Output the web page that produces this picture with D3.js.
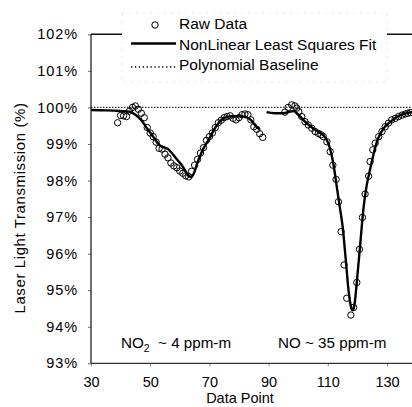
<!DOCTYPE html>
<html><head><meta charset="utf-8">
<script src="https://cdn.jsdelivr.net/npm/d3@7"></script>
<style>html,body{margin:0;padding:0;background:#fff;}svg{display:block;font-family:"Liberation Sans",Arial,sans-serif;}</style>
</head><body>
<svg id="c" width="412" height="407"></svg>
<script>
// ---- data ----
const xTicks = [30, 50, 70, 90, 110, 130];
const yTicks = [93, 94, 95, 96, 97, 98, 99, 100, 101, 102];
const legendLabels = ["Raw Data", "NonLinear Least Squares Fit", "Polynomial Baseline"];
const annotations = ["NO", "2", "  ~ 4 ppm-m", "NO ~ 35 ppm-m"];
const baselineValue = 100;

// raw data, NO2 region (data point index, % transmission)
const rawLeftX = [39,40,41,42,43,44,45,46,47,48,49,50,51,52,53,54,55,56,57,58,59,60,61,62,63,64,65,66,67,68,69,70,71,72,73,74,75,76,77,78,79,80,81,82,83,84,85,86,87,88];
const rawLeftY = [99.58,99.78,99.77,99.75,99.90,100.00,100.04,99.95,99.84,99.72,99.45,99.30,99.20,99.05,98.88,98.86,98.72,98.62,98.48,98.40,98.35,98.26,98.20,98.13,98.10,98.25,98.42,98.58,98.75,98.90,99.10,99.20,99.30,99.45,99.58,99.65,99.72,99.75,99.77,99.70,99.66,99.72,99.80,99.82,99.80,99.66,99.47,99.40,99.28,99.18];
// raw data, NO region
const rawRightX = [95.5,96.6,97.8,98.9,99.5,100.2,101.2,102.3,103.4,104.6,105.7,106.8,107.7,108.5,109.7,110.8,111.7,112.8,113.6,114.5,115.5,116.4,117.8,118.7,119.8,120.7,121.7,122.6,123.8,124.3,125.2,126.0,127.2,128.3,129.4,130.5,131.6,132.8,133.9,135.1,136.2,137.0,137.9];
const rawRightY = [99.87,100.00,100.07,100.04,99.98,99.88,99.75,99.61,99.52,99.43,99.34,99.29,99.25,99.20,99.06,98.79,98.42,98.03,97.42,96.60,95.69,94.78,94.32,94.53,95.21,96.12,96.99,97.63,98.12,98.52,98.84,99.02,99.20,99.34,99.47,99.57,99.66,99.70,99.75,99.79,99.82,99.84,99.86];

// nonlinear least squares fit
const fitLeftX = [30,35,40,43,45,47,49,51,53,54,55,56,57,59,61,62,63,64,65,66,67,68,70,72,74,76,78,80,82,84,86,87];
const fitLeftY = [99.93,99.92,99.90,99.88,99.80,99.65,99.42,99.20,98.98,98.92,98.90,98.86,98.78,98.58,98.38,98.25,98.12,98.10,98.25,98.50,98.70,98.88,99.15,99.45,99.65,99.74,99.76,99.76,99.74,99.66,99.46,99.40];
const fitRightX = [89.3,92,95,97,98.5,100,101,103,105,107,108.5,110,111,112,113,114,115,116,117,118,118.5,119,120,121,122,123,124,125,126,127,129,131,133,135,137,139];
const fitRightY = [99.87,99.84,99.84,99.88,99.90,99.80,99.72,99.56,99.43,99.32,99.24,99.05,98.80,98.40,97.85,97.30,96.75,95.90,95.00,94.50,94.45,94.60,95.40,96.30,97.20,97.80,98.20,98.56,98.90,99.15,99.44,99.60,99.72,99.80,99.85,99.88];

// ---- chart ----
const svg = d3.select("#c");
const L = 91, R = 412, T = 34.3, B = 363.3;
const x = d3.scaleLinear().domain([30, 30 + (R - L) / 2.96]).range([L, R]);
const y = d3.scaleLinear().domain([93, 102]).range([B, T]);

const defs = svg.append("defs");
defs.append("clipPath").attr("id", "clip").append("rect")
  .attr("x", L).attr("y", T).attr("width", R - L).attr("height", B - T);

const plot = svg.append("g").attr("clip-path", "url(#clip)");

// baseline
plot.append("line")
  .attr("x1", L).attr("x2", R).attr("y1", y(baselineValue)).attr("y2", y(baselineValue))
  .attr("stroke", "#333").attr("stroke-width", 1.2).attr("stroke-dasharray", "1.5,1.5");

// raw circles
const raw = rawLeftX.map((v, i) => [v, rawLeftY[i]]).concat(rawRightX.map((v, i) => [v, rawRightY[i]]));
plot.selectAll("circle.raw").data(raw).enter().append("circle")
  .attr("class", "raw")
  .attr("cx", d => x(d[0])).attr("cy", d => y(d[1])).attr("r", 3.2)
  .attr("fill", "none").attr("stroke", "#000").attr("stroke-width", 1);

// fit lines
const line = d3.line().x(d => x(d[0])).y(d => y(d[1])).curve(d3.curveMonotoneX);
[[fitLeftX, fitLeftY], [fitRightX, fitRightY]].forEach(([xs, ys]) => {
  plot.append("path").datum(xs.map((v, i) => [v, ys[i]]))
    .attr("d", line).attr("fill", "none").attr("stroke", "#000").attr("stroke-width", 2.4);
});

// axes
const yAxis = d3.axisLeft(y).tickValues(yTicks).tickSize(3).tickFormat(d => d + "%");
const gy = svg.append("g").attr("transform", `translate(${L},0)`).call(yAxis);
gy.select(".domain").remove();
gy.selectAll(".tick line").attr("stroke", "#666");
gy.selectAll(".tick text").attr("x", -13).attr("font-size", 14.5).attr("fill", "#000")
  .attr("font-family", "Liberation Sans, Arial, sans-serif").attr("letter-spacing", 0.9);

const xAxis = d3.axisBottom(x).tickValues(xTicks).tickSize(3).tickFormat(d3.format("d"));
const gx = svg.append("g").attr("transform", `translate(0,${B})`).call(xAxis);
gx.select(".domain").remove();
gx.selectAll(".tick line").attr("stroke", "#888");
gx.selectAll(".tick text").attr("y", 13).attr("font-size", 14.5).attr("fill", "#000")
  .attr("font-family", "Liberation Sans, Arial, sans-serif");

// frame lines
svg.append("line").attr("x1", L).attr("x2", L).attr("y1", T).attr("y2", B).attr("stroke", "#222").attr("stroke-width", 1.3);
svg.append("line").attr("x1", L).attr("x2", R).attr("y1", B).attr("y2", B).attr("stroke", "#333").attr("stroke-width", 1.3);
svg.append("line").attr("x1", L).attr("x2", R).attr("y1", T).attr("y2", T).attr("stroke", "#111").attr("stroke-width", 1.5);

// axis titles
svg.append("text").attr("x", 240).attr("y", 403).attr("text-anchor", "middle")
  .attr("font-size", 14.5).text("Data Point");
svg.append("text").attr("transform", "translate(25,208) rotate(-90)").attr("text-anchor", "middle")
  .attr("font-size", 15).attr("letter-spacing", 0.6).text("Laser Light Transmission (%)");

// annotations
const a1 = svg.append("text").attr("x", 121).attr("y", 348).attr("font-size", 15.2).attr("xml:space", "preserve");
a1.append("tspan").text(annotations[0]);
a1.append("tspan").attr("dy", 4).attr("font-size", 10.5).text(annotations[1]);
a1.append("tspan").attr("dy", -4).text(annotations[2]);
svg.append("text").attr("x", 278).attr("y", 348).attr("font-size", 15.2).text(annotations[3]);

// legend
const lg = svg.append("g");
lg.append("rect").attr("x", 122).attr("y", 13).attr("width", 265).attr("height", 69)
  .attr("fill", "#fff").attr("stroke", "#e2e2e2").attr("stroke-width", 1).attr("stroke-dasharray", "2,5");
lg.append("circle").attr("cx", 155).attr("cy", 25).attr("r", 3.2).attr("fill", "none").attr("stroke", "#000");
lg.append("line").attr("x1", 131).attr("x2", 176).attr("y1", 43.5).attr("y2", 43.5).attr("stroke", "#000").attr("stroke-width", 2.4);
lg.append("line").attr("x1", 131).attr("x2", 176).attr("y1", 67).attr("y2", 67).attr("stroke", "#000").attr("stroke-width", 1.4).attr("stroke-dasharray", "1.3,2.6");
legendLabels.forEach((t, i) => {
  lg.append("text").attr("x", 179).attr("y", 29 + i * 20.5).attr("font-size", 15.5).text(t);
});
</script>
</body></html>
